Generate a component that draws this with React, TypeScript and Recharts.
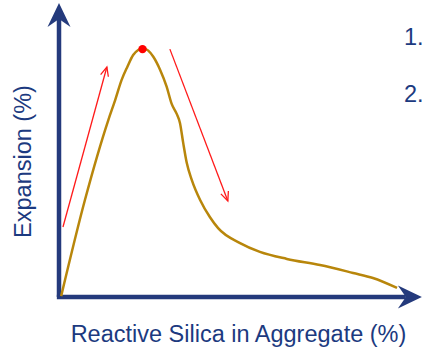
import React from "react";
import {
  ComposedChart,
  Line,
  XAxis,
  YAxis,
  ReferenceLine,
  ReferenceDot,
  Customized,
} from "recharts";

// ---- data ----
const silica = [0.6, 7.2, 13.7, 15.6, 17.4, 19.0, 20.6, 22.0, 23.3, 24.8, 26.2, 28.1, 29.9, 31.3, 32.7, 33.6, 34.5, 35.5, 36.9, 39.2, 41.9, 44.2, 50.3, 55.8, 63.3, 72.5, 81.7, 87.2, 93.9];
const expansion = [0.3, 33.1, 60.4, 67.2, 74.1, 78.6, 82.6, 84.3, 84.9, 84.1, 82.0, 77.5, 71.8, 65.9, 62.5, 59.4, 52.6, 45.7, 39.9, 33.1, 27.3, 23.5, 18.4, 15.4, 13.0, 10.9, 8.2, 6.5, 3.1];
const peakPoint = { x: 23.2, y: 84.6 };
const risingArrow = [{ x: 1.1, y: 23.9 }, { x: 13.3, y: 78.5 }];
const fallingArrow = [{ x: 30.8, y: 84.6 }, { x: 46.9, y: 32.8 }];
const yAxisSegment = [{ x: 0, y: 0 }, { x: 0, y: 100.3 }];
const xAxisSegment = [{ x: -0.6, y: 0 }, { x: 100.8, y: 0 }];
const xTitle = "Reactive Silica in Aggregate (%)";
const yTitle = "Expansion (%)";
const sideNotes = ["1.", "2."];

const curve = silica.map((x, i) => ({ x, y: expansion[i] }));

const NAVY = "#243a7c";
const TEXT = "#1c3a80";
const FONT = "'Liberation Sans', Arial, sans-serif";

const AxisArrow = (props: any) => {
  const { x1, y1, x2, y2 } = props;
  const dx = x2 - x1;
  const dy = y2 - y1;
  const len = Math.sqrt(dx * dx + dy * dy) || 1;
  const ux = dx / len;
  const uy = dy / len;
  const nx = -uy;
  const ny = ux;
  const back = 24;
  const half = 11.5;
  const notch = 16;
  const pts = [
    [x2, y2],
    [x2 - back * ux + half * nx, y2 - back * uy + half * ny],
    [x2 - notch * ux, y2 - notch * uy],
    [x2 - back * ux - half * nx, y2 - back * uy - half * ny],
  ];
  return (
    <g>
      <line x1={x1} y1={y1} x2={x2 - notch * ux} y2={y2 - notch * uy} stroke={NAVY} strokeWidth={4.5} />
      <polygon points={pts.map((p) => p.join(",")).join(" ")} fill={NAVY} />
    </g>
  );
};

const RedArrow = (props: any) => {
  const { x1, y1, x2, y2 } = props;
  const dx = x2 - x1;
  const dy = y2 - y1;
  const len = Math.sqrt(dx * dx + dy * dy) || 1;
  const ux = dx / len;
  const uy = dy / len;
  const nx = -uy;
  const ny = ux;
  const back = 9;
  const half = 4;
  return (
    <g stroke="#ff1a1a" strokeWidth={1.3} fill="none">
      <line x1={x1} y1={y1} x2={x2} y2={y2} />
      <polyline
        points={`${x2 - back * ux + half * nx},${y2 - back * uy + half * ny} ${x2},${y2} ${x2 - back * ux - half * nx},${y2 - back * uy - half * ny}`}
      />
    </g>
  );
};

const Notes = () => (
  <g>
    {sideNotes.map((t, i) => (
      <text key={t} x={404} y={45 + i * 57} fontSize={23.5} fill={TEXT} fontFamily={FONT}>
        {t}
      </text>
    ))}
  </g>
);

export default function App() {
  return (
    <div style={{ position: "absolute", left: 0, top: 0, background: "#fff" }}>
      <ComposedChart
        width={422}
        height={352}
        data={curve}
        margin={{ top: 4, right: 3, left: 0, bottom: 0 }}
      >
        <XAxis
          dataKey="x"
          type="number"
          domain={[0, 100]}
          allowDataOverflow
          tick={false}
          axisLine={false}
          tickLine={false}
          height={55}
          label={{
            content: (p: any) => {
              const vb = p.viewBox || { x: 59, y: 297, width: 360 };
              return (
                <text
                  x={vb.x + vb.width / 2 - 0.5}
                  y={vb.y + 45}
                  textAnchor="middle"
                  fontSize={23.5}
                  fill={TEXT}
                  fontFamily={FONT}
                >
                  {xTitle}
                </text>
              );
            },
          }}
        />
        <YAxis
          type="number"
          domain={[0, 100]}
          allowDataOverflow
          tick={false}
          axisLine={false}
          tickLine={false}
          width={59}
          label={{
            content: () => (
              <text
                x={31}
                y={161.5}
                transform="rotate(-90, 31, 161.5)"
                textAnchor="middle"
                fontSize={23.5}
                fill={TEXT}
                fontFamily={FONT}
              >
                {yTitle}
              </text>
            ),
          }}
        />
        <ReferenceLine segment={yAxisSegment} ifOverflow="visible" shape={AxisArrow} />
        <ReferenceLine segment={xAxisSegment} ifOverflow="visible" shape={AxisArrow} />
        <ReferenceLine segment={risingArrow} ifOverflow="visible" shape={RedArrow} />
        <ReferenceLine segment={fallingArrow} ifOverflow="visible" shape={RedArrow} />
        <Line
          dataKey="y"
          type="monotone"
          stroke="#b8860b"
          strokeWidth={2.5}
          dot={false}
          isAnimationActive={false}
        />
        <ReferenceDot x={peakPoint.x} y={peakPoint.y} r={4.2} fill="#ff0000" stroke="none" ifOverflow="visible" />
        <Customized component={Notes} />
      </ComposedChart>
    </div>
  );
}
